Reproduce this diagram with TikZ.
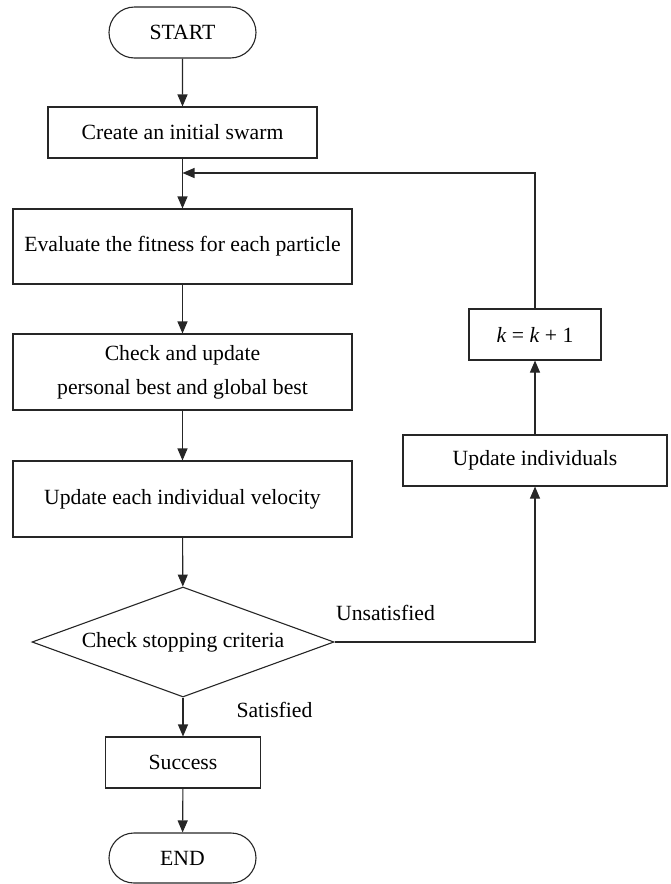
\documentclass[tikz,border=0pt]{standalone}
\usepackage{fontspec}
\setmainfont{Liberation Serif}
\usetikzlibrary{shapes.geometric,shapes.misc,arrows.meta}
\begin{document}
\begin{tikzpicture}[x=1pt,y=1pt,
  every node/.style={font=\fontsize{21.7}{34}\selectfont, text=black},
  line/.style={draw=black!85, line width=1.1pt},
  arr/.style={line, -{Triangle[length=12pt,width=10pt]}},
  term/.style={line, rounded rectangle, minimum width=#1, minimum height=51pt, inner sep=0pt},
  procbox/.style={line, rectangle, minimum width=#1, inner sep=0pt, align=center},
  decision/.style={line, diamond, shape aspect=2.745, minimum width=302pt, minimum height=110pt, inner sep=0pt},
  lab/.style={inner sep=0pt}
]
\useasboundingbox (0,0) rectangle (670,-884);
\node[term=147pt] (start) at (182.5,-32.5) {START};
\node[procbox=269pt, minimum height=51pt] (create) at (182.5,-132.5) {Create an initial swarm};
\node[procbox=339pt, minimum height=75pt] (eval) at (182.5,-246.5) {Evaluate the fitness for each particle};
\node[procbox=339pt, minimum height=76pt] (check) at (182.5,-372) {Check and update\\personal best and global best};
\node[procbox=339pt, minimum height=76pt] (vel) at (182.5,-499) {Update each individual velocity};
\node[decision] (dec) at (183,-642) {Check stopping criteria};
\node[procbox=155pt, minimum height=51pt] (succ) at (183,-762.5) {Success};
\node[term=147pt, minimum height=50pt] (end) at (182.5,-858) {END};
\node[procbox=264pt, minimum height=51pt] (upd) at (535,-460.5) {Update individuals};
\node[procbox=132pt, minimum height=51pt] (kk) at (535,-334.5) {\textit{k} = \textit{k} + 1};
\node[lab] (unsat) at (385.5,-613) {Unsatisfied};
\node[lab] (sat) at (274.5,-710) {Satisfied};
\coordinate (j) at (create.south |- 0,-173);
\coordinate (c1) at (dec.east -| upd.south);
\coordinate (c2) at (kk.north |- j);

\draw[arr] (start) -- (create);
\draw[arr] (create) -- (eval);
\draw[arr] (eval) -- (check);
\draw[arr] (check) -- (vel);
\draw[arr] (vel) -- (dec);
\draw[arr] (dec) -- (succ);
\draw[arr] (succ) -- (end);
\draw[arr] (dec.east) -- (c1) -- (upd.south);
\draw[arr] (upd) -- (kk);
\draw[arr] (kk.north) -- (c2) -- (j);
\end{tikzpicture}
\end{document}
